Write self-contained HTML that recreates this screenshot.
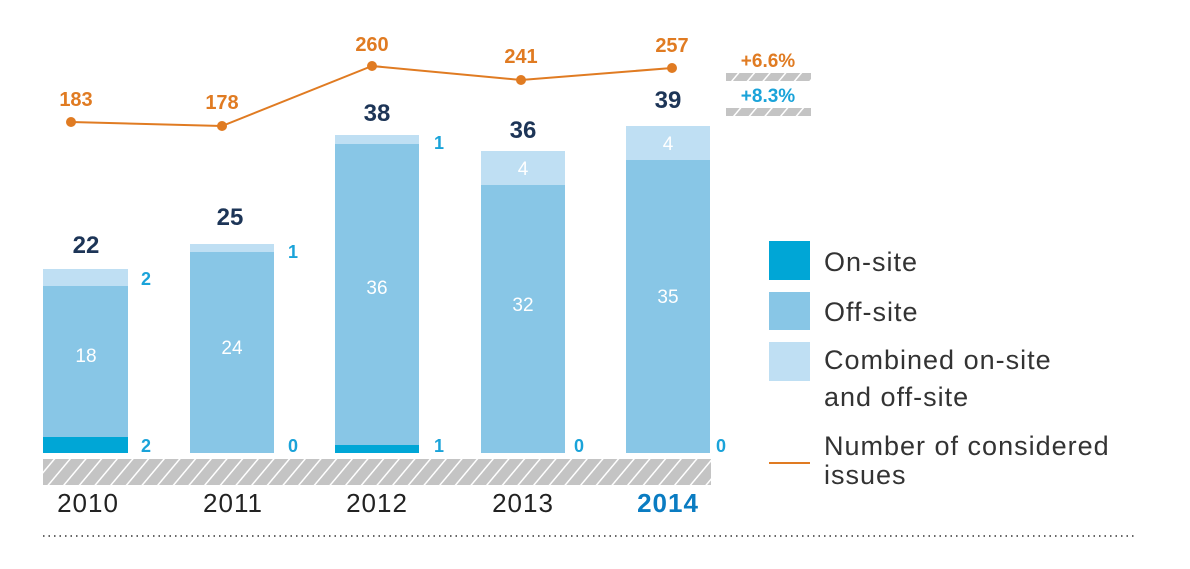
<!DOCTYPE html>
<html><head><style>body{margin:0;background:#fff}svg{display:block}</style></head><body>
<svg width="1190" height="569" viewBox="0 0 1190 569" xmlns="http://www.w3.org/2000/svg" font-family="Liberation Sans, sans-serif">
<defs><pattern id="h" width="12" height="12" patternUnits="userSpaceOnUse" patternTransform="rotate(40)"><rect width="12" height="12" fill="#c4c4c4"/><rect width="1.5" height="12" fill="#fff"/></pattern></defs>
<rect x="43" y="459" width="668" height="26" fill="url(#h)"/>
<rect x="726" y="73" width="85" height="8" fill="url(#h)"/>
<rect x="726" y="108" width="85" height="8" fill="url(#h)"/>
<text x="768" y="67" font-size="19" fill="#e07b22" text-anchor="middle" font-weight="bold">+6.6%</text>
<text x="768" y="102" font-size="19" fill="#1aa3d9" text-anchor="middle" font-weight="bold">+8.3%</text>
<g>
<rect x="43" y="269" width="85" height="17" fill="#bfdff3"/><rect x="43" y="286" width="85" height="151" fill="#88c6e6"/><rect x="43" y="437" width="85" height="16" fill="#00a6d6"/>
<rect x="190" y="244" width="84" height="8" fill="#bfdff3"/><rect x="190" y="252" width="84" height="201" fill="#88c6e6"/>
<rect x="335" y="135" width="84" height="9" fill="#bfdff3"/><rect x="335" y="144" width="84" height="301" fill="#88c6e6"/><rect x="335" y="445" width="84" height="8" fill="#00a6d6"/>
<rect x="481" y="151" width="84" height="34" fill="#bfdff3"/><rect x="481" y="185" width="84" height="268" fill="#88c6e6"/>
<rect x="626" y="126" width="84" height="34" fill="#bfdff3"/><rect x="626" y="160" width="84" height="293" fill="#88c6e6"/>
</g>
<g fill="#fff" font-size="19" text-anchor="middle">
<text x="86" y="362">18</text><text x="232" y="354">24</text><text x="377" y="294">36</text><text x="523" y="311">32</text><text x="668" y="303">35</text>
<text x="523" y="175">4</text><text x="668" y="150">4</text>
</g>
<g fill="#1d3557" font-size="24" font-weight="bold" text-anchor="middle">
<text x="86" y="253">22</text><text x="230" y="225">25</text><text x="377" y="121">38</text><text x="523" y="138">36</text><text x="668" y="108">39</text>
</g>
<g fill="#1aa3d9" font-size="18" font-weight="bold" text-anchor="middle">
<text x="146" y="285">2</text><text x="146" y="452">2</text><text x="293" y="258">1</text><text x="293" y="452">0</text>
<text x="439" y="149">1</text><text x="439" y="452">1</text><text x="579" y="452">0</text><text x="721" y="452">0</text>
</g>
<polyline points="71,122 222,126 372,66 521,80 672,68" fill="none" stroke="#e07b22" stroke-width="2"/>
<g fill="#e07b22"><circle cx="71" cy="122" r="5"/><circle cx="222" cy="126" r="5"/><circle cx="372" cy="66" r="5"/><circle cx="521" cy="80" r="5"/><circle cx="672" cy="68" r="5"/></g>
<g fill="#e07b22" font-size="20" font-weight="bold" text-anchor="middle">
<text x="76" y="106">183</text><text x="222" y="109">178</text><text x="372" y="51">260</text><text x="521" y="63">241</text><text x="672" y="52">257</text>
</g>
<g font-size="26" text-anchor="middle" fill="#222" letter-spacing="1">
<text x="88" y="512">2010</text><text x="233" y="512">2011</text><text x="377" y="512">2012</text><text x="523" y="512">2013</text>
<text x="668" y="512" fill="#0a7cc2" font-weight="bold">2014</text>
</g>
<line x1="43" y1="536" x2="1135" y2="536" stroke="#333" stroke-width="1.5" stroke-dasharray="1.5,4"/>
<rect x="769" y="241" width="41" height="39" fill="#00a6d6"/>
<rect x="769" y="292" width="41" height="38" fill="#88c6e6"/>
<rect x="769" y="342" width="41" height="39" fill="#bfdff3"/>
<line x1="769" y1="463" x2="810" y2="463" stroke="#e07b22" stroke-width="2"/>
<g font-size="27" fill="#333" letter-spacing="1">
<text x="824" y="271">On-site</text><text x="824" y="321">Off-site</text>
<text x="824" y="369">Combined on-site</text><text x="824" y="406">and off-site</text>
<text x="824" y="455">Number of considered</text><text x="824" y="484">issues</text>
</g>
</svg>
</body></html>
